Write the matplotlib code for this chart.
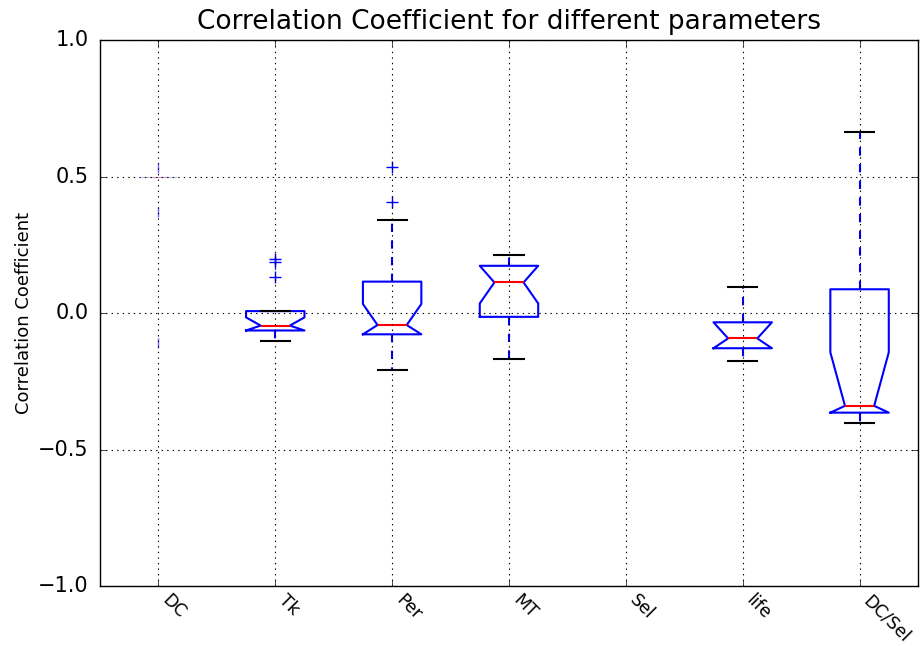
import matplotlib
import matplotlib.pyplot as plt
from matplotlib.transforms import ScaledTranslation

matplotlib.use("Agg")
plt.style.use("classic")

labels = ["DC", "Tk", "Per", "MT", "Sel", "life", "DC/Sel"]

# per-parameter box statistics (Sel has no usable values)
medians = [0.50, -0.046, -0.044, 0.112, None, -0.093, -0.340]
q1s = [0.50, -0.064, -0.078, -0.014, None, -0.129, -0.365]
q3s = [0.50, 0.007, 0.115, 0.173, None, -0.034, 0.087]
ci_low = [0.50, -0.064, -0.078, 0.035, None, -0.129, -0.365]
ci_high = [0.50, -0.016, 0.033, 0.173, None, -0.034, -0.144]
whisk_low = [0.50, -0.101, -0.209, -0.170, None, -0.175, -0.404]
whisk_high = [0.50, 0.007, 0.341, 0.212, None, 0.097, 0.664]
outliers = [[0.53, 0.37, -0.11], [0.197, 0.188, 0.131], [0.534, 0.408], [], [], [], []]

fig = plt.figure(figsize=(9.24, 6.46), dpi=100, facecolor="white")
ax = fig.add_axes([0.1082, 0.0929, 0.8853, 0.8451])

stats, pos = [], []
for i, m in enumerate(medians):
    if m is None or i == 0:
        continue
    stats.append(dict(med=m, q1=q1s[i], q3=q3s[i], cilo=ci_low[i], cihi=ci_high[i],
                      whislo=whisk_low[i], whishi=whisk_high[i], fliers=outliers[i]))
    pos.append(i + 1)

lw = 1.5
ax.bxp(stats, positions=pos, widths=0.5, shownotches=True,
       boxprops=dict(color="b", linewidth=lw),
       whiskerprops=dict(color="b", linestyle="--", linewidth=lw),
       capprops=dict(color="k", linewidth=lw),
       medianprops=dict(color="r", linewidth=lw),
       flierprops=dict(marker="+", markeredgecolor="b", markersize=9,
                       markeredgewidth=1.0, linestyle="none"))

# DC collapses to a single value, only faint traces remain
dc = dict(med=medians[0], q1=q1s[0], q3=q3s[0], cilo=ci_low[0], cihi=ci_high[0],
          whislo=whisk_low[0], whishi=whisk_high[0], fliers=outliers[0])
ax.bxp([dc], positions=[1], widths=0.3, shownotches=True,
       boxprops=dict(color="b", linewidth=0.5, alpha=0.25),
       whiskerprops=dict(color="b", linewidth=0.5, alpha=0.2),
       capprops=dict(color="k", linewidth=0.5, alpha=0.0),
       medianprops=dict(color="r", linewidth=0.5, alpha=0.3),
       flierprops=dict(marker="|", markeredgecolor="b", markersize=7, alpha=0.6,
                       linestyle="none"))

ax.set_xlim(0.5, 7.5)
ax.set_ylim(-1.0, 1.0)
ax.set_xticks(range(1, 8))
ax.set_xticklabels(labels, rotation=-45, ha="left", fontsize=12.5)
# nudge the slanted labels a little left so the last one stays on the canvas
shift = ScaledTranslation(-3 / 72, 0, fig.dpi_scale_trans)
for t in ax.get_xticklabels():
    t.set_transform(t.get_transform() + shift)
ax.set_yticks([-1.0, -0.5, 0.0, 0.5, 1.0])
ax.tick_params(axis="y", labelsize=15, pad=8)
ax.tick_params(axis="x", pad=4)
ax.grid(True, color="k", linestyle=":", linewidth=0.8)

ax.set_title("Correlation Coefficient for different parameters", fontsize=19, pad=8)
ax.set_ylabel("Correlation Coefficient", fontsize=13, labelpad=4)

fig.savefig("out.png", dpi=100, facecolor="white")
